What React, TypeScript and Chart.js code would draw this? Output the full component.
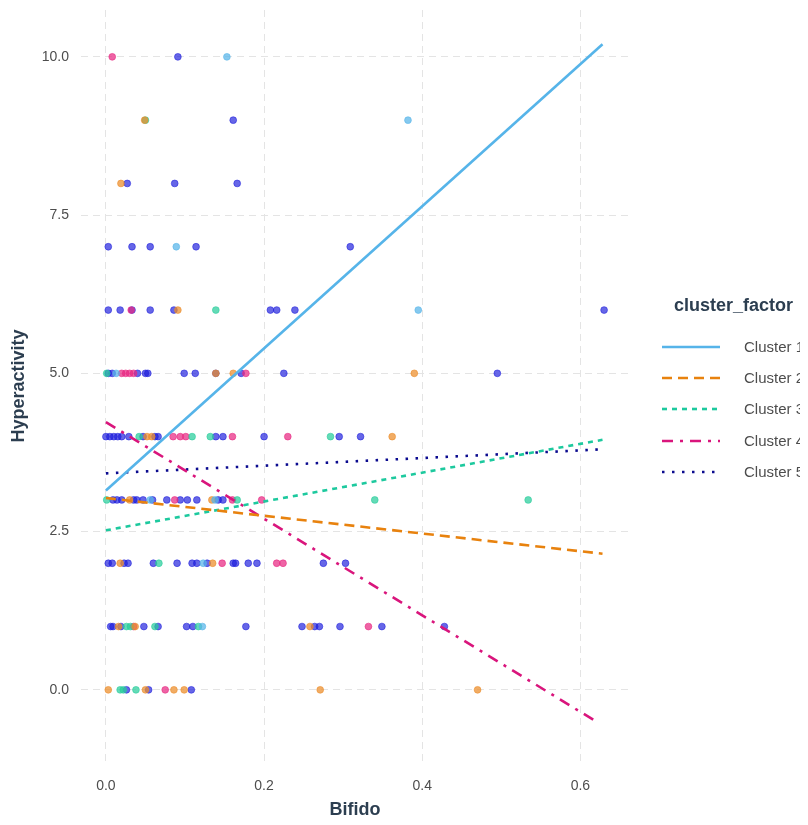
import { useEffect, useRef } from "react";
import { Chart, registerables } from "chart.js";

Chart.register(...registerables);

const FONT = "'Liberation Sans', Arial, sans-serif";

const clusterNames = ["Cluster 1", "Cluster 2", "Cluster 3", "Cluster 4", "Cluster 5"];
const legendTitle = "cluster_factor";
const xAxisTitle = "Bifido";
const yAxisTitle = "Hyperactivity";
const xTicks = [0, 0.2, 0.4, 0.6];
const yTicks = [0, 2.5, 5, 7.5, 10];

// Cluster 1 points
const c1Bifido = [0.153, 0.382, 0.089, 0.395, 0.013, 0.056, 0.138, 0.123, 0.122];
const c1Hyper = [10, 9, 7, 6, 5, 3, 3, 2, 1];

// Cluster 2 points
const c2Bifido = [0.049, 0.019, 0.091, 0.139, 0.161, 0.39, 0.052, 0.058, 0.362, 0.03, 0.134, 0.018, 0.135, 0.016, 0.037, 0.258, 0.003, 0.05, 0.086, 0.099, 0.271, 0.47];
const c2Hyper = [9, 8, 6, 5, 5, 5, 4, 4, 4, 3, 3, 2, 2, 1, 1, 1, 0, 0, 0, 0, 0, 0];

// Cluster 3 points
const c3Bifido = [0.05, 0.139, 0.001, 0.042, 0.109, 0.132, 0.284, 0.001, 0.166, 0.34, 0.534, 0.067, 0.026, 0.031, 0.062, 0.117, 0.018, 0.022, 0.038];
const c3Hyper = [9, 6, 5, 4, 4, 4, 4, 3, 3, 3, 3, 2, 1, 1, 1, 1, 0, 0, 0];

// Cluster 4 points
const c4Bifido = [0.008, 0.032, 0.02, 0.025, 0.03, 0.035, 0.177, 0.085, 0.094, 0.101, 0.16, 0.23, 0.087, 0.16, 0.197, 0.147, 0.216, 0.224, 0.035, 0.332, 0.075];
const c4Hyper = [10, 6, 5, 5, 5, 5, 5, 4, 4, 4, 4, 4, 3, 3, 3, 2, 2, 2, 1, 1, 0];

// Cluster 5 points
const c5Bifido = [
  0.091,
  0.161,
  0.027, 0.087, 0.166,
  0.003, 0.033, 0.056, 0.114, 0.309,
  0.003, 0.018, 0.033, 0.056, 0.086, 0.208, 0.216, 0.239, 0.63,
  0.003, 0.008, 0.04, 0.05, 0.053, 0.099, 0.113, 0.139, 0.171, 0.225, 0.495,
  0.0, 0.005, 0.01, 0.015, 0.02, 0.029, 0.047, 0.062, 0.066, 0.139, 0.148, 0.2, 0.295, 0.322,
  0.009, 0.014, 0.02, 0.035, 0.039, 0.047, 0.059, 0.077, 0.094, 0.103, 0.115, 0.142, 0.148,
  0.003, 0.008, 0.023, 0.028, 0.06, 0.09, 0.109, 0.115, 0.128, 0.161, 0.164, 0.18, 0.191, 0.275, 0.303,
  0.006, 0.009, 0.019, 0.048, 0.066, 0.102, 0.11, 0.177, 0.248, 0.264, 0.27, 0.296, 0.349, 0.428,
  0.026, 0.054, 0.108,
];
const c5Hyper = [
  10,
  9,
  8, 8, 8,
  7, 7, 7, 7, 7,
  6, 6, 6, 6, 6, 6, 6, 6, 6,
  5, 5, 5, 5, 5, 5, 5, 5, 5, 5, 5,
  4, 4, 4, 4, 4, 4, 4, 4, 4, 4, 4, 4, 4, 4,
  3, 3, 3, 3, 3, 3, 3, 3, 3, 3, 3, 3, 3,
  2, 2, 2, 2, 2, 2, 2, 2, 2, 2, 2, 2, 2, 2, 2,
  1, 1, 1, 1, 1, 1, 1, 1, 1, 1, 1, 1, 1, 1,
  0, 0, 0,
];

// Fitted lines (endpoints)
const fit1Bifido = [0, 0.628];
const fit1Hyper = [3.15, 10.2];
const fit2Bifido = [0, 0.628];
const fit2Hyper = [3.03, 2.15];
const fit3Bifido = [0, 0.628];
const fit3Hyper = [2.52, 3.95];
const fit4Bifido = [0, 0.62];
const fit4Hyper = [4.23, -0.5];
const fit5Bifido = [0, 0.628];
const fit5Hyper = [3.42, 3.8];

const lineColors = ["#56B4E9", "#E8820E", "#1DC99E", "#D9157C", "#0B0B8F"];
const pointColors = [
  "rgba(86,180,233,0.72)",
  "rgba(236,140,40,0.72)",
  "rgba(40,205,155,0.72)",
  "rgba(232,40,130,0.72)",
  "rgba(30,30,220,0.68)",
];
const dashes = [[], [10, 6], [5, 5], [11, 7, 3, 7], [2.5, 7.5]];

const pointSets = [
  [c1Bifido, c1Hyper],
  [c2Bifido, c2Hyper],
  [c3Bifido, c3Hyper],
  [c4Bifido, c4Hyper],
  [c5Bifido, c5Hyper],
];
const fitSets = [
  [fit1Bifido, fit1Hyper],
  [fit2Bifido, fit2Hyper],
  [fit3Bifido, fit3Hyper],
  [fit4Bifido, fit4Hyper],
  [fit5Bifido, fit5Hyper],
];

const toXY = (xs: number[], ys: number[]) => xs.map((x, i) => ({ x, y: ys[i] }));

export default function App() {
  const ref = useRef<HTMLCanvasElement>(null);

  useEffect(() => {
    if (!ref.current) return;
    Chart.defaults.font.family = FONT;

    const legendPlugin = {
      id: "clusterLegend",
      afterDraw(chart: any) {
        const ctx = chart.ctx as CanvasRenderingContext2D;
        ctx.save();
        ctx.textAlign = "left";
        ctx.textBaseline = "middle";
        ctx.fillStyle = "#2C3E50";
        ctx.font = `bold 18px ${FONT}`;
        ctx.fillText(legendTitle, 666, 298);
        const rowsY = [339, 370, 401, 433, 464];
        clusterNames.forEach((name, i) => {
          const y = rowsY[i];
          ctx.beginPath();
          ctx.strokeStyle = lineColors[i];
          ctx.lineWidth = 2.6;
          ctx.setLineDash(dashes[i]);
          ctx.moveTo(654, y);
          ctx.lineTo(712, y);
          ctx.stroke();
          ctx.setLineDash([]);
          ctx.fillStyle = "#4D4D4D";
          ctx.font = `15px ${FONT}`;
          ctx.fillText(name, 736, y + 1);
        });
        ctx.restore();
      },
    };

    const lineDatasets = fitSets.map(([xs, ys], i) => ({
      type: "line" as const,
      label: clusterNames[i] + " fit",
      data: toXY(xs, ys),
      borderColor: lineColors[i],
      borderWidth: 2.6,
      borderDash: dashes[i],
      borderCapStyle: "butt" as const,
      pointRadius: 0,
      fill: false,
      tension: 0,
    }));

    const pointDatasets = pointSets.map(([xs, ys], i) => ({
      type: "scatter" as const,
      label: clusterNames[i],
      data: toXY(xs, ys),
      backgroundColor: pointColors[i],
      borderColor: pointColors[i],
      borderWidth: 0.8,
      pointRadius: 3.4,
      showLine: false,
    }));

    const chart = new Chart(ref.current, {
      type: "scatter",
      data: { datasets: [...lineDatasets, ...pointDatasets] as any },
      plugins: [legendPlugin],
      options: {
        animation: false,
        responsive: true,
        maintainAspectRatio: false,
        layout: { autoPadding: false, padding: { top: 2, right: 171, left: 0, bottom: 0 } },
        plugins: {
          legend: { display: false },
          title: { display: false },
          tooltip: { enabled: false },
        },
        scales: {
          x: {
            type: "linear",
            min: -0.0315,
            max: 0.6615,
            afterBuildTicks: (scale: any) => {
              scale.ticks = xTicks.map((v) => ({ value: v }));
            },
            afterFit: (scale: any) => {
              scale.height = 63;
              scale.paddingLeft = 0;
              scale.paddingRight = 0;
            },
            border: { display: false, dash: [7, 5] },
            grid: {
              color: "#E4E4E4",
              lineWidth: 1,
              drawTicks: false,
            },
            ticks: {
              padding: 16,
              color: "#4D4D4D",
              font: { size: 14 },
              callback: (v: any) => Number(v).toFixed(1),
            },
            title: {
              display: true,
              text: xAxisTitle,
              color: "#2C3E50",
              font: { size: 18, weight: "bold" },
              padding: { top: 0, bottom: 4 },
            },
          },
          y: {
            type: "linear",
            min: -1.14,
            max: 10.74,
            afterBuildTicks: (scale: any) => {
              scale.ticks = yTicks.map((v) => ({ value: v }));
            },
            afterFit: (scale: any) => {
              scale.width = 73;
              scale.paddingTop = 0;
              scale.paddingBottom = 0;
            },
            border: { display: false, dash: [7, 5] },
            grid: {
              color: "#E4E4E4",
              lineWidth: 1,
              drawTicks: false,
            },
            ticks: {
              padding: 12,
              color: "#4D4D4D",
              font: { size: 14 },
              callback: (v: any) => Number(v).toFixed(1),
            },
            title: {
              display: true,
              text: yAxisTitle,
              color: "#2C3E50",
              font: { size: 18, weight: "bold" },
              padding: { top: 0, bottom: 0 },
            },
          },
        },
      } as any,
    });

    return () => chart.destroy();
  }, []);

  return (
    <div style={{ position: "relative", width: 792, height: 817, marginBottom: -8 }}>
      <canvas ref={ref} />
    </div>
  );
}
